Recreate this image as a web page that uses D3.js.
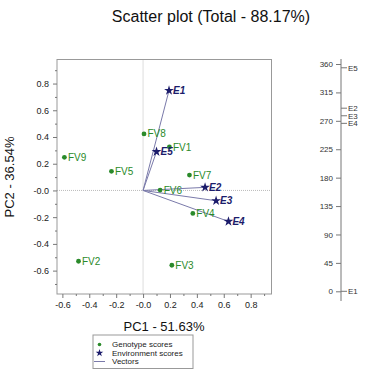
<!DOCTYPE html>
<html><head><meta charset="utf-8">
<script src="https://cdn.jsdelivr.net/npm/d3@7"></script>
<style>body{margin:0;background:#fff}svg{display:block;font-family:"Liberation Sans",Arial,sans-serif}</style>
</head><body><svg id="c" width="366" height="374"></svg>
<script>
const genotypes = ["FV1","FV2","FV3","FV4","FV5","FV6","FV7","FV8","FV9"];
const genoPC1 = [0.196,-0.48,0.214,0.37,-0.235,0.127,0.345,0.007,-0.585];
const genoPC2 = [0.325,-0.53,-0.56,-0.172,0.143,0.003,0.115,0.423,0.248];
const envs = ["E1","E2","E3","E4","E5"];
const envPC1 = [0.193,0.461,0.543,0.635,0.10];
const envPC2 = [0.748,0.023,-0.077,-0.232,0.29];
const envAngle = [0,290,278,266,354];
const xTicks = [-0.6,-0.4,-0.2,0,0.2,0.4,0.6,0.8];
const xTickLabels = ["-0.6","-0.4","-0.2","-0.0","0.2","0.4","0.6","0.8"];
const yTicks = [-0.6,-0.4,-0.2,0,0.2,0.4,0.6,0.8];
const yTickLabels = ["-0.6","-0.4","-0.2","-0.0","0.2","0.4","0.6","0.8"];
const xMinor = [-0.5,-0.3,-0.1,0.1,0.3,0.5,0.7,0.9];
const yMinor = [-0.7,-0.5,-0.3,-0.1,0.1,0.3,0.5,0.7,0.9];
const angTicks = [0,45,90,135,180,225,270,315,360];
const legendItems = ["Genotype scores","Environment scores","Vectors"];

const svg = d3.select("#c");
const green = "#2a8a2a", navy = "#1c1c6b", vec = "#7a7aaa";
const L=57, R=271.5, T=59.5, B=294;
const x = d3.scaleLinear().domain([-0.64,0.955]).range([L,R]);
const y = d3.scaleLinear().domain([-0.775,0.98]).range([B,T]);

svg.append("text").attr("x",211).attr("y",22).attr("text-anchor","middle")
  .attr("font-size",16).attr("fill","#111").text("Scatter plot (Total - 88.17%)");

// reference lines
svg.append("line").attr("x1",x(0)).attr("x2",x(0)).attr("y1",T).attr("y2",B)
  .attr("stroke","#bbb").attr("stroke-dasharray","1,1");
svg.append("line").attr("x1",L).attr("x2",R).attr("y1",y(0)).attr("y2",y(0))
  .attr("stroke","#bbb").attr("stroke-dasharray","1,1");

svg.append("rect").attr("x",L).attr("y",T).attr("width",R-L).attr("height",B-T)
  .attr("fill","none").attr("stroke","#999");

function styleAxis(g){ g.select(".domain").remove(); g.selectAll("line").attr("stroke","#777");
  g.selectAll("text").attr("fill","#222").attr("font-size",9).attr("font-family","Liberation Sans, Arial, sans-serif"); }

svg.append("g").attr("transform",`translate(0,${B})`)
  .call(d3.axisBottom(x).tickValues(xTicks).tickSize(4).tickPadding(4).tickFormat((d,i)=>xTickLabels[i])).call(styleAxis);
svg.append("g").attr("transform",`translate(0,${B})`)
  .call(d3.axisBottom(x).tickValues(xMinor.filter(v=>x(v)<=R)).tickSize(2).tickFormat("")).call(styleAxis);
svg.append("g").attr("transform",`translate(${L},0)`)
  .call(d3.axisLeft(y).tickValues(yTicks).tickSize(4).tickPadding(4).tickFormat((d,i)=>yTickLabels[i])).call(styleAxis);
svg.append("g").attr("transform",`translate(${L},0)`)
  .call(d3.axisLeft(y).tickValues(yMinor).tickSize(2).tickFormat("")).call(styleAxis);

svg.append("text").attr("x",164).attr("y",331).attr("text-anchor","middle")
  .attr("font-size",13).attr("fill","#111").text("PC1 - 51.63%");
svg.append("text").attr("transform","translate(14,177) rotate(-90)").attr("text-anchor","middle")
  .attr("font-size",13).attr("fill","#111").text("PC2 - 36.54%");

// vectors
envs.forEach((e,i)=>{
  svg.append("line").attr("x1",x(0)).attr("y1",y(0)).attr("x2",x(envPC1[i])).attr("y2",y(envPC2[i]))
    .attr("stroke",vec).attr("stroke-width",1);
});
// genotypes
const star = d3.symbol().type(d3.symbolStar).size(30);
genotypes.forEach((g,i)=>{
  svg.append("circle").attr("cx",x(genoPC1[i])).attr("cy",y(genoPC2[i])).attr("r",2.4).attr("fill",green);
  svg.append("text").attr("x",x(genoPC1[i])+3.5).attr("y",y(genoPC2[i])).attr("dy","0.35em")
    .attr("font-size",10).attr("fill",green).text(g);
});
envs.forEach((e,i)=>{
  svg.append("path").attr("d",star).attr("transform",`translate(${x(envPC1[i])},${y(envPC2[i])})`).attr("fill",navy);
  svg.append("text").attr("x",x(envPC1[i])+4).attr("y",y(envPC2[i])).attr("dy","0.35em")
    .attr("font-size",10).attr("font-weight","bold").attr("font-style","italic").attr("fill",navy).text(e);
});

// angle axis
const ax = 341;
const a = d3.scaleLinear().domain([0,360]).range([291.3,64]);
svg.append("line").attr("x1",ax).attr("x2",ax).attr("y1",59).attr("y2",301).attr("stroke","#777");
const ag = svg.append("g").attr("transform",`translate(${ax},0)`)
  .call(d3.axisLeft(a).tickValues(angTicks).tickSize(5).tickPadding(3));
ag.select(".domain").remove();
ag.selectAll("line").attr("stroke","#777");
ag.selectAll("text").attr("font-size",8).attr("fill","#333").attr("font-family","Liberation Sans, Arial, sans-serif");
envs.forEach((e,i)=>{
  svg.append("line").attr("x1",ax).attr("x2",ax+6).attr("y1",a(envAngle[i])).attr("y2",a(envAngle[i])).attr("stroke","#777");
  svg.append("text").attr("x",ax+7).attr("y",a(envAngle[i])).attr("dy","0.35em")
    .attr("font-size",8).attr("fill","#333").text(e);
});

// legend
const lg = svg.append("g");
lg.append("rect").attr("x",93).attr("y",335).attr("width",100).attr("height",33.5)
  .attr("fill","#fff").attr("stroke","#999");
const ly = [344.5,353,361.5];
lg.append("circle").attr("cx",99.5).attr("cy",ly[0]).attr("r",1.8).attr("fill",green);
lg.append("path").attr("d",d3.symbol().type(d3.symbolStar).size(18)).attr("transform",`translate(99.5,${ly[1]})`).attr("fill",navy);
lg.append("line").attr("x1",94).attr("x2",105).attr("y1",ly[2]).attr("y2",ly[2]).attr("stroke",vec);
legendItems.forEach((t,i)=>{
  lg.append("text").attr("x",112).attr("y",ly[i]).attr("dy","0.35em").attr("font-size",8).attr("fill","#222").text(t);
});
</script></body></html>
